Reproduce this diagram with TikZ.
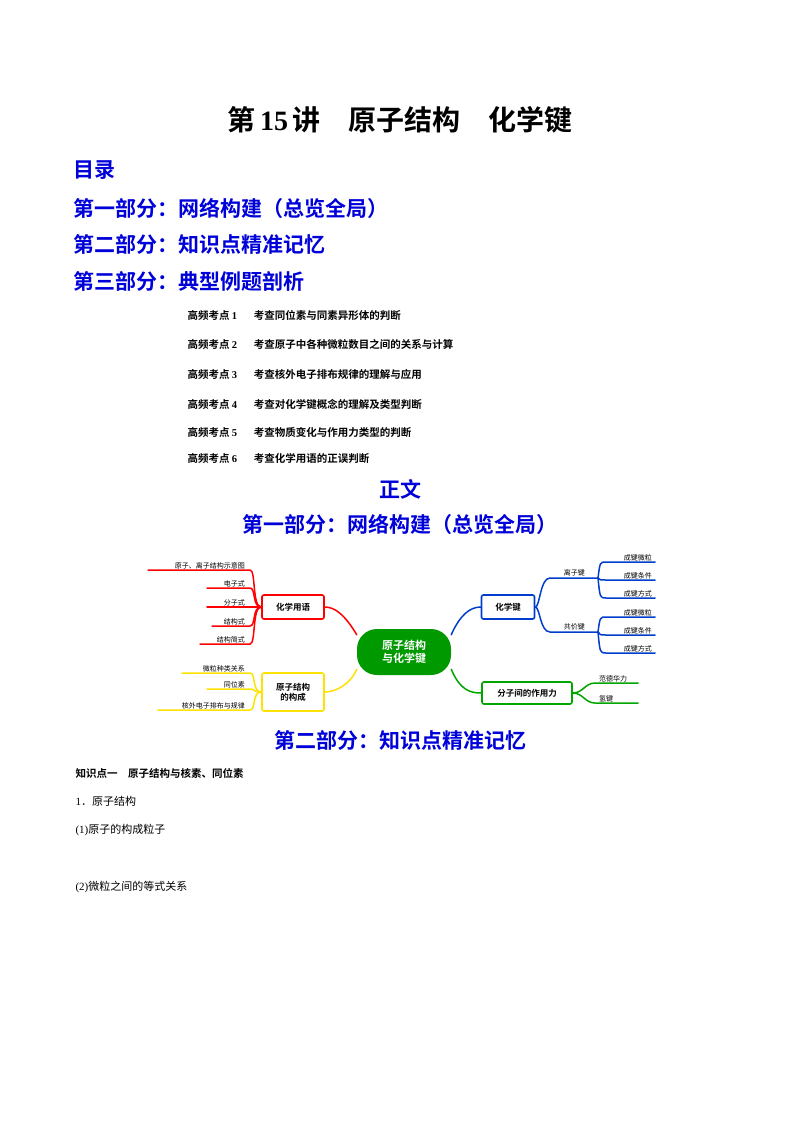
\documentclass[tikz,border=0pt]{standalone}
\usepackage{fontspec}
\setmainfont{Liberation Serif}
\newfontfamily\cjk{Noto Sans CJK SC}[BoldFont={* Bold}]
\newfontfamily\cjkb{Noto Sans CJK SC Bold}
\begin{document}
\begin{tikzpicture}[x=1pt,y=-1pt,
  blueh/.style={anchor=west,text=blue!85!black,font=\cjkb\fontsize{21}{21}\selectfont},
  item/.style={anchor=west,font=\cjkb\fontsize{10.5}{11}\selectfont},
  body/.style={anchor=west,font=\cjk\fontsize{11}{12}\selectfont},
  box/.style={draw=#1,line width=1.6pt,rounded corners=2pt,fill=white,font=\cjkb\fontsize{8.5}{10}\selectfont,align=center,inner sep=2pt},
  leaf/.style={font=\cjk\fontsize{7}{7}\selectfont,inner sep=1pt,anchor=south east},
  br/.style={draw=#1,line width=1.5pt,line cap=round}]
\useasboundingbox (0,0) rectangle (800,1132);
\node (title) at (400,120) {\cjkb\fontsize{28}{28}\selectfont 第\,{\bfseries\rmfamily 15}\,讲\quad 原子结构\quad 化学键};
\node[blueh] (ml) at (70,170) {目录};
\node[blueh] (p1) at (70,208) {第一部分：网络构建（总览全局）};
\node[blueh] (p2) at (70,244) {第二部分：知识点精准记忆};
\node[blueh] (p3) at (70,281) {第三部分：典型例题剖析};
\foreach \i/\t/\y in {1/同位素与同素异形体的判断/315,2/原子中各种微粒数目之间的关系与计算/344,3/核外电子排布规律的理解与应用/374,4/对化学键概念的理解及类型判断/404,5/物质变化与作用力类型的判断/432,6/化学用语的正误判断/458}
  \node[item] (k\i) at (184,\y) {高频考点 {\rmfamily\bfseries\i}\hspace{1.6em}考查\t};
\node[text=blue!85!black,font=\cjkb\fontsize{21}{21}\selectfont] (zw) at (400,489) {正文};
\node[text=blue!85!black,font=\cjkb\fontsize{21}{21}\selectfont] (h1) at (400,524) {第一部分：网络构建（总览全局）};
% mind map
\node[fill=green!60!black,rounded corners=20pt,minimum width=94pt,minimum height=46pt,text=white,font=\cjkb\fontsize{11}{13}\selectfont,align=center] (c) at (404,652) {原子结构\\与化学键};
\node[box=red,minimum width=62pt,minimum height=24pt] (a) at (293,607) {化学用语};
\node[box=yellow!85!orange,minimum width=62pt,minimum height=38pt] (b) at (293,692) {原子结构\\的构成};
\node[box=blue!70!cyan!80!black,minimum width=53pt,minimum height=24pt] (d) at (508,607) {化学键};
\node[box=green!65!black,minimum width=90pt,minimum height=22pt] (e) at (527,693) {分子间的作用力};
\draw[br=red] (c.160) .. controls (345,615) and (335,607) .. (a.east);
\draw[br=yellow!85!orange] (c.200) .. controls (350,685) and (335,692) .. (b.east);
\draw[br=blue!70!cyan!80!black] (c.20) .. controls (460,615) and (470,607) .. (d.west);
\draw[br=green!65!black] (c.340) .. controls (460,690) and (470,693) .. (e.west);
% left leaves
\foreach \n/\t/\y/\x in {l1/原子、离子结构示意图/570/148,l2/电子式/588/207,l3/分子式/607/207,l4/结构式/626/212,l5/结构简式/644/200}{
  \coordinate (\n) at (\x,\y); \coordinate (\n e) at (250,\y);
  \draw[br=red] (\n) -- (\n e) .. controls (256,\y) and (252,607) .. (a.west);
  \node[leaf] at (246,\y) {\t};}
\foreach \n/\t/\y/\x in {m1/微粒种类关系/673/182,m2/同位素/689/207,m3/核外电子排布与规律/710/158}{
  \coordinate (\n) at (\x,\y); \coordinate (\n e) at (250,\y);
  \draw[br=yellow!85!orange] (\n) -- (\n e) .. controls (256,\y) and (252,692) .. (b.west);
  \node[leaf] at (246,\y) {\t};}
% right
\coordinate (ion) at (598,578); \coordinate (cov) at (598,632);
\draw[br=blue!70!cyan!80!black] (d.east) .. controls (540,607) and (540,578) .. (550,578) -- (ion);
\draw[br=blue!70!cyan!80!black] (d.east) .. controls (540,607) and (540,632) .. (550,632) -- (cov);
\node[leaf] at (586,577) {离子键};
\node[leaf] at (586,631) {共价键};
\foreach \p/\y/\t/\q in {ion/562/成键微粒/r1,ion/580/成键条件/r2,ion/598/成键方式/r3,cov/617/成键微粒/r4,cov/635/成键条件/r5,cov/653/成键方式/r6}{
  \coordinate (\q) at (655,\y);
  \draw[br=blue!70!cyan!80!black] (\p) .. controls (600,\y) .. (606,\y) -- (\q);
  \node[leaf] at (653,\y) {\t};}
\foreach \y/\t/\q in {683/范德华力/g1,703/氢键/g2}{
  \coordinate (\q) at (638,\y);
  \draw[br=green!65!black] (e.east) .. controls (583,693) and (585,\y) .. (595,\y) -- (\q);
  \node[leaf,anchor=south west] at (598,\y) {\t};}
\node[text=blue!85!black,font=\cjkb\fontsize{21}{21}\selectfont] (h2) at (400,740) {第二部分：知识点精准记忆};
\node[anchor=west,font=\cjkb\fontsize{10.5}{11}\selectfont] (z1) at (72,773) {知识点一\quad 原子结构与核素、同位素};
\node[body] (s1) at (72,801) {{\rmfamily 1}．原子结构};
\node[body] (s2) at (72,830) {{\rmfamily (1)}原子的构成粒子};
\node[body] (s3) at (72,887) {{\rmfamily (2)}微粒之间的等式关系};
\end{tikzpicture}
\end{document}
